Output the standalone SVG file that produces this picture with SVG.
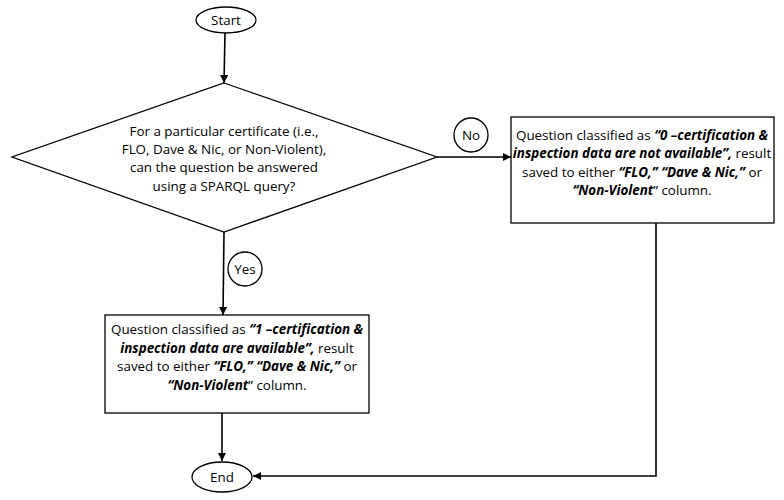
<svg xmlns="http://www.w3.org/2000/svg" width="784" height="500" viewBox="0 0 784 500">
<style>
.s{fill:#fff;stroke:#000;stroke-width:1.3}
.c{fill:none;stroke:#000;stroke-width:1.6}
text{font-family:"Open Sans","Liberation Sans",sans-serif;font-size:13.4px;fill:#000;text-anchor:middle}
.b{font-weight:bold;font-style:italic}
</style>
<defs>
<marker id="ah" viewBox="0 0 10 10" refX="10" refY="5" markerWidth="8" markerHeight="8" markerUnits="userSpaceOnUse" orient="auto"><path d="M0,0 L10,5 L0,10 z" fill="#000"/></marker>
</defs>
<g id="connectors">
<line class="c" x1="225" y1="33" x2="224" y2="83" marker-end="url(#ah)"/>
<line class="c" x1="437" y1="157" x2="511" y2="157" marker-end="url(#ah)"/>
<line class="c" x1="224" y1="232" x2="223" y2="315" marker-end="url(#ah)"/>
<line class="c" x1="222" y1="413" x2="222" y2="461" marker-end="url(#ah)"/>
<polyline class="c" points="656,223 656,476 253,476" marker-end="url(#ah)"/>
</g>
<g id="start"><ellipse class="s" cx="226" cy="20" rx="30" ry="13"/><text x="226" y="25">Start</text></g>
<g id="decision"><polygon class="s" points="224,83 437,157 224,232 12,157"/>
<text x="224" y="136">For a particular certificate (i.e.,</text>
<text x="224" y="154">FLO, Dave &amp; Nic, or Non-Violent),</text>
<text x="224" y="172">can the question be answered</text>
<text x="224" y="191">using a SPARQL query?</text></g>
<g id="no"><circle class="s" cx="471" cy="135" r="17"/><text x="471" y="140">No</text></g>
<g id="yes"><circle class="s" cx="245" cy="269" r="17"/><text x="245" y="274">Yes</text></g>
<g id="notavailable"><rect class="s" x="511" y="117" width="263" height="106"/>
<text x="642" y="140">Question classified as <tspan class="b">“0 –certification &amp;</tspan></text>
<text x="642" y="158"><tspan class="b">inspection data are not available”,</tspan> result</text>
<text x="642" y="177">saved to either <tspan class="b">“FLO,” “Dave &amp; Nic,”</tspan> or</text>
<text x="642" y="195"><tspan class="b">“Non-Violent</tspan>” column.</text></g>
<g id="available"><rect class="s" x="105" y="315" width="264" height="98"/>
<text x="237" y="334">Question classified as <tspan class="b">“1 –certification &amp;</tspan></text>
<text x="237" y="353"><tspan class="b">inspection data are available”,</tspan> result</text>
<text x="237" y="371">saved to either <tspan class="b">“FLO,” “Dave &amp; Nic,”</tspan> or</text>
<text x="237" y="390"><tspan class="b">“Non-Violent</tspan>” column.</text></g>
<g id="end"><ellipse class="s" cx="222" cy="477" rx="30" ry="15"/><text x="222" y="482">End</text></g>
</svg>
